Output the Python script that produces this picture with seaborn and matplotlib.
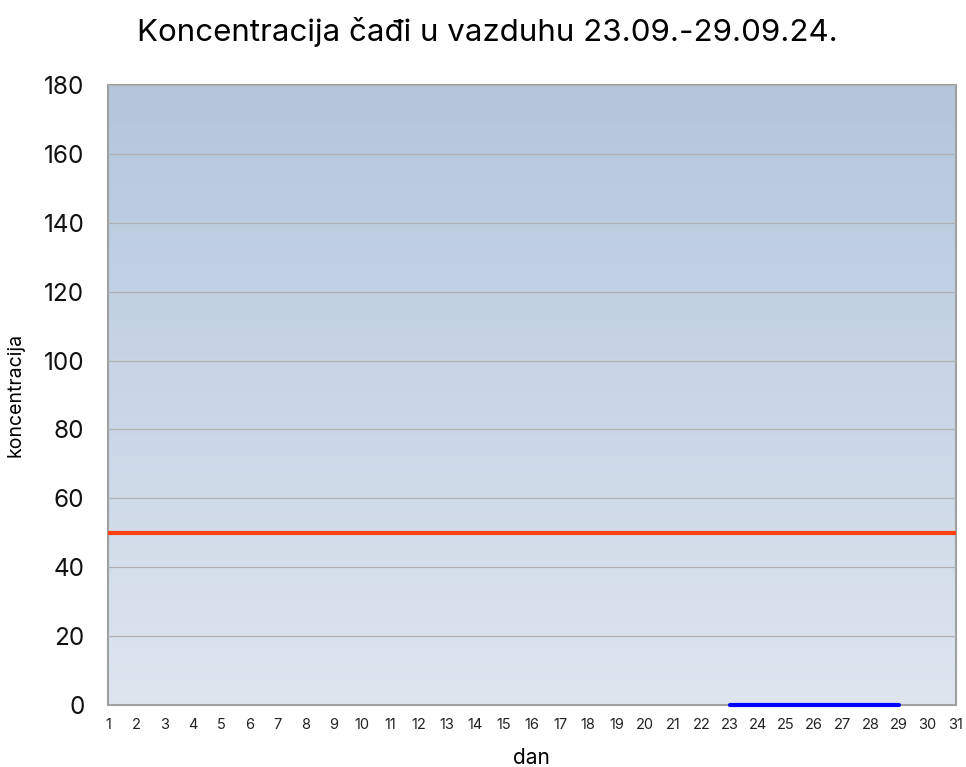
import numpy as np
import pandas as pd
import matplotlib
matplotlib.use("Agg")
import matplotlib.pyplot as plt
import seaborn as sns
from matplotlib.colors import LinearSegmentedColormap

# DATA
days = list(range(1, 32))
measured_days = [23, 24, 25, 26, 27, 28, 29]
measured_values = [0, 0, 0, 0, 0, 0, 0]
limit_value = 50
y_ticks = [0, 20, 40, 60, 80, 100, 120, 140, 160, 180]

df_limit = pd.DataFrame({"dan": days, "koncentracija": [limit_value] * len(days)})
df_meas = pd.DataFrame({"dan": measured_days, "koncentracija": measured_values})

sns.set_style("white")
plt.rcParams["font.family"] = ["Inter", "DejaVu Sans"]
plt.rcParams["text.color"] = "black"
plt.rcParams["axes.labelcolor"] = "black"

fig = plt.figure(figsize=(9.66, 7.67), dpi=100)
ax = fig.add_axes([0.1118, 0.0808, 0.8774, 0.8084])

# gradient background
cmap = LinearSegmentedColormap.from_list("bg", ["#dee5ef", "#c9d6e6", "#b4c6dc"])
grad = np.linspace(0, 1, 256).reshape(-1, 1)
ax.imshow(grad, aspect="auto", cmap=cmap, origin="lower",
          extent=[1, 31, 0, 180], zorder=0)

sns.lineplot(data=df_limit, x="dan", y="koncentracija", color="#ff4010",
             linewidth=3, ax=ax, zorder=3)
sns.lineplot(data=df_meas, x="dan", y="koncentracija", color="#0000ff",
             linewidth=3, ax=ax, zorder=4, clip_on=False)

ax.set_xlim(1, 31)
ax.set_ylim(0, 180)
ax.set_xticks(days)
ax.set_yticks(y_ticks)
ax.tick_params(axis="x", labelsize=10.5, length=0, pad=9, colors="#222222")
ax.tick_params(axis="y", labelsize=17.5, length=0, pad=17, colors="#111111")
ax.grid(axis="y", color="#b0b0b0", linewidth=0.9)
ax.set_axisbelow(False)
for s in ax.spines.values():
    s.set_color("#a0a0a0")
    s.set_linewidth(1.5)

ax.set_xlabel("dan", fontsize=15, labelpad=12)
ax.set_ylabel("koncentracija", fontsize=14, labelpad=14)
fig.suptitle("Koncentracija čađi u vazduhu 23.09.-29.09.24.", fontsize=22.5,
             x=0.505, y=0.978)

fig.savefig("out.png", dpi=100)
